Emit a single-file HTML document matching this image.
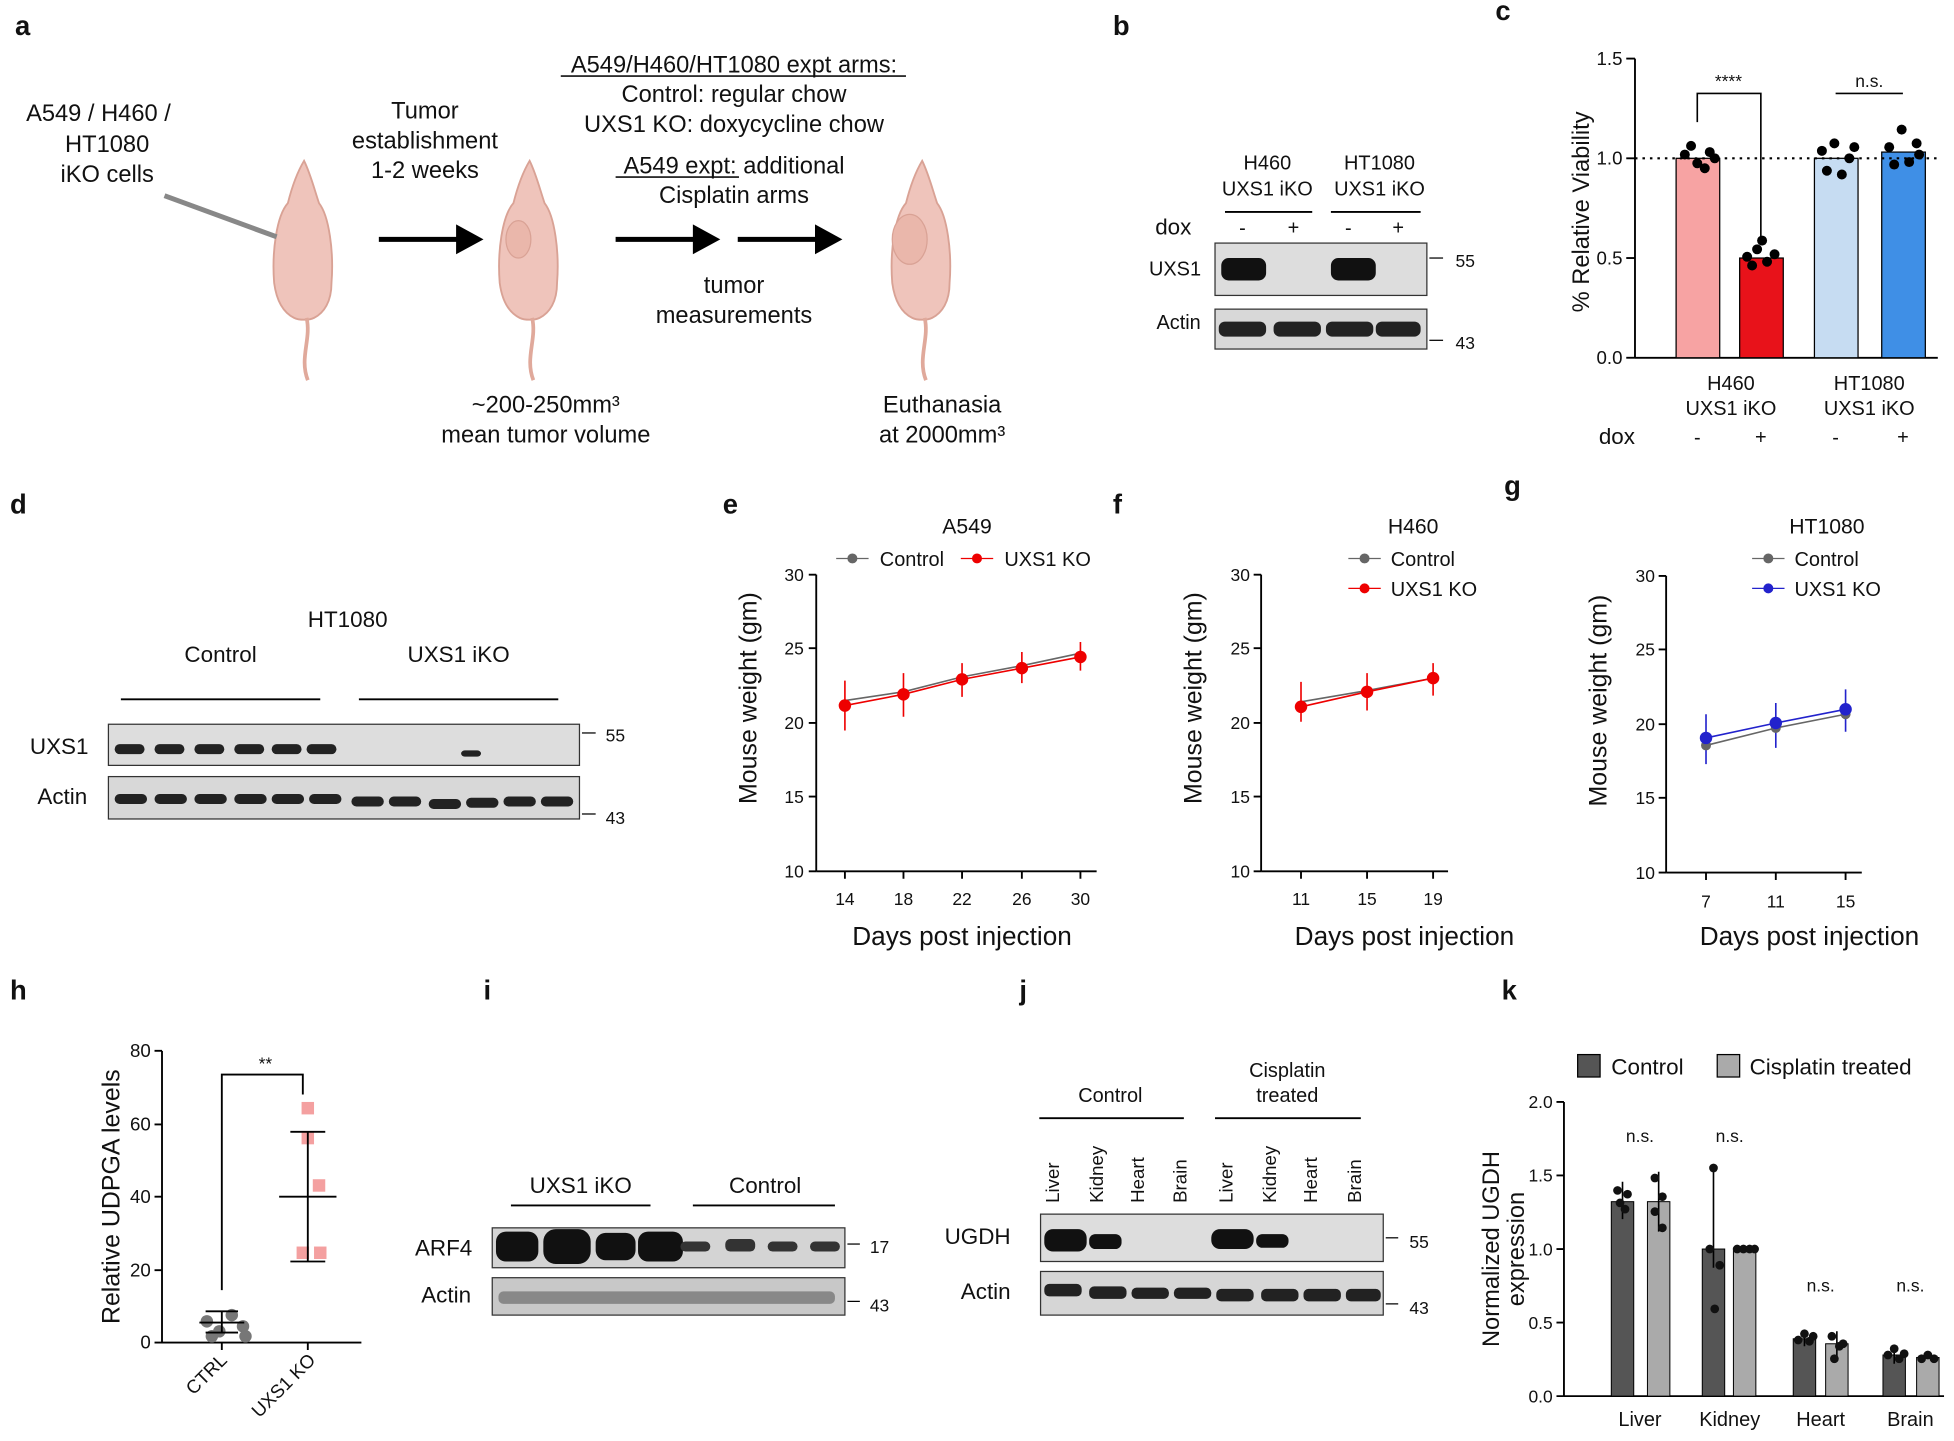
<!DOCTYPE html>
<html><head><meta charset="utf-8"><style>
html,body{margin:0;padding:0;background:#fff}
svg{display:block}
text{font-family:"Liberation Sans",Arial,sans-serif;fill:#111}
</style></head><body>
<svg width="1954" height="1441" viewBox="0 0 1568 1156" preserveAspectRatio="none" xmlns="http://www.w3.org/2000/svg">
<defs>
<g id="mouse">
<path d="M0,-78 C-6,-68 -10,-56 -13,-44 C-22,-34 -26,-5 -24,20 C-22,35 -16,44 -8,48 C-4,50 4,50 8,48 C16,44 22,35 22,20 C24,-5 20,-34 12,-44 C8,-56 5,-68 0,-78 Z" fill="#efc4bb" stroke="#d9a295" stroke-width="1.5"/>
<path d="M2,48 C6,65 -4,80 3,98" fill="none" stroke="#e0a99b" stroke-width="3"/>
</g>
</defs>
<g font-size="22" font-weight="bold"><text x="12" y="28">a</text><text x="893" y="28">b</text><text x="1200" y="16">c</text>
<text x="8" y="412">d</text><text x="580" y="412">e</text><text x="893" y="412">f</text><text x="1207" y="397">g</text>
<text x="8" y="802">h</text><text x="388" y="802">i</text><text x="818" y="802">j</text><text x="1205" y="802">k</text></g>

<!-- panel a -->
<g font-size="19" text-anchor="middle">
<text x="79" y="97">A549 / H460 /</text><text x="86" y="122">HT1080</text><text x="86" y="146">iKO cells</text>
<text x="341" y="95">Tumor</text><text x="341" y="119">establishment</text><text x="341" y="143">1-2 weeks</text>
<text x="589" y="58">A549/H460/HT1080 expt arms:</text><line x1="450" y1="61" x2="727" y2="61" stroke="#111" stroke-width="1.3"/>
<text x="589" y="82">Control: regular chow</text><text x="589" y="106">UXS1 KO: doxycycline chow</text>
<text x="589" y="139">A549 expt: additional</text><line x1="494" y1="142" x2="593" y2="142" stroke="#111" stroke-width="1.3"/>
<text x="589" y="163">Cisplatin arms</text>
<text x="589" y="235">tumor</text><text x="589" y="259">measurements</text>
<text x="438" y="331">~200-250mm³</text><text x="438" y="355">mean tumor volume</text>
<text x="756" y="331">Euthanasia</text><text x="756" y="355">at 2000mm³</text></g>
<use href="#mouse" x="244" y="207"/><use href="#mouse" x="425" y="207"/><use href="#mouse" x="740" y="207"/>
<ellipse cx="416" cy="192" rx="10" ry="15" fill="#eab7ab" stroke="#d9a295"/><ellipse cx="730" cy="192" rx="14" ry="20" fill="#eab7ab" stroke="#d9a295"/>
<line x1="132" y1="157" x2="222" y2="190" stroke="#888" stroke-width="4"/>
<g stroke="#000" stroke-width="4"><line x1="304" y1="192" x2="368" y2="192"/><line x1="494" y1="192" x2="558" y2="192"/><line x1="592" y1="192" x2="656" y2="192"/></g>
<g fill="#000"><path d="M366,180 L388,192 L366,204Z"/><path d="M556,180 L578,192 L556,204Z"/><path d="M654,180 L676,192 L654,204Z"/></g>

<!-- panel b -->
<g font-size="16" text-anchor="middle"><text x="1017" y="136">H460</text><text x="1017" y="157">UXS1 iKO</text><text x="1107" y="136">HT1080</text><text x="1107" y="157">UXS1 iKO</text>
<text x="997" y="188">-</text><text x="1038" y="188">+</text><text x="1082" y="188">-</text><text x="1122" y="188">+</text></g>
<line x1="983" y1="170" x2="1053" y2="170" stroke="#000" stroke-width="1.5"/><line x1="1068" y1="170" x2="1140" y2="170" stroke="#000" stroke-width="1.5"/>
<text x="927" y="188" font-size="18">dox</text><text x="922" y="221" font-size="16">UXS1</text><text x="928" y="264" font-size="16">Actin</text>
<rect x="975" y="195" width="170" height="42" fill="#ddd" stroke="#333"/><rect x="975" y="248" width="170" height="32" fill="#d8d8d8" stroke="#333"/>
<rect x="980" y="207" width="36" height="18" rx="6" fill="#111"/><rect x="1068" y="207" width="36" height="18" rx="6" fill="#111"/>
<g fill="#222"><rect x="978" y="258" width="38" height="12" rx="5"/><rect x="1022" y="258" width="38" height="12" rx="5"/><rect x="1064" y="258" width="38" height="12" rx="5"/><rect x="1104" y="258" width="36" height="12" rx="5"/></g>
<g font-size="14"><line x1="1147" y1="207" x2="1158" y2="207" stroke="#000"/><text x="1168" y="214">55</text><line x1="1147" y1="273" x2="1158" y2="273" stroke="#000"/><text x="1168" y="280">43</text></g>

<!-- panel c -->
<g stroke="#000" stroke-width="1.5"><line x1="1312" y1="47" x2="1312" y2="287"/><line x1="1312" y1="287" x2="1555" y2="287"/>
<line x1="1305" y1="47" x2="1312" y2="47"/><line x1="1305" y1="127" x2="1312" y2="127"/><line x1="1305" y1="207" x2="1312" y2="207"/><line x1="1305" y1="287" x2="1312" y2="287"/></g>
<g font-size="15" text-anchor="end"><text x="1302" y="52">1.5</text><text x="1302" y="132">1.0</text><text x="1302" y="212">0.5</text><text x="1302" y="292">0.0</text></g>
<text transform="translate(1275,170) rotate(-90)" font-size="19" text-anchor="middle">% Relative Viability</text>
<rect x="1345" y="127" width="35" height="160" fill="#f7a3a3" stroke="#000"/><rect x="1396" y="207" width="35" height="80" fill="#e8121a" stroke="#000"/>
<rect x="1456" y="127" width="35" height="160" fill="#c6dcf2" stroke="#000"/><rect x="1510" y="122" width="35" height="165" fill="#3f8fe6" stroke="#000"/>
<line x1="1312" y1="127" x2="1555" y2="127" stroke="#000" stroke-width="1.8" stroke-dasharray="2,4"/>
<g fill="#000"><circle cx="1352" cy="124" r="4"/><circle cx="1362" cy="131" r="4"/><circle cx="1372" cy="122" r="4"/><circle cx="1357" cy="117" r="4"/><circle cx="1368" cy="135" r="4"/><circle cx="1376" cy="127" r="4"/>
<circle cx="1402" cy="206" r="4"/><circle cx="1410" cy="200" r="4"/><circle cx="1418" cy="210" r="4"/><circle cx="1424" cy="204" r="4"/><circle cx="1406" cy="213" r="4"/><circle cx="1414" cy="193" r="4"/>
<circle cx="1462" cy="121" r="4"/><circle cx="1472" cy="115" r="4"/><circle cx="1484" cy="127" r="4"/><circle cx="1466" cy="137" r="4"/><circle cx="1478" cy="140" r="4"/><circle cx="1488" cy="118" r="4"/>
<circle cx="1516" cy="118" r="4"/><circle cx="1526" cy="104" r="4"/><circle cx="1538" cy="115" r="4"/><circle cx="1520" cy="132" r="4"/><circle cx="1532" cy="130" r="4"/><circle cx="1540" cy="124" r="4"/></g>
<g stroke="#000" stroke-width="1.3" fill="none"><path d="M1362,98 L1362,75 L1413,75 L1413,190"/><line x1="1473" y1="75" x2="1527" y2="75"/></g>
<text x="1387" y="70" font-size="14" text-anchor="middle">****</text><text x="1500" y="70" font-size="14" text-anchor="middle">n.s.</text>
<g font-size="16" text-anchor="middle"><text x="1389" y="313">H460</text><text x="1389" y="333">UXS1 iKO</text><text x="1500" y="313">HT1080</text><text x="1500" y="333">UXS1 iKO</text>
<text x="1362" y="356">-</text><text x="1413" y="356">+</text><text x="1473" y="356">-</text><text x="1527" y="356">+</text></g>
<text x="1283" y="356" font-size="18">dox</text>

<!-- panel d -->
<g font-size="18" text-anchor="middle"><text x="279" y="503">HT1080</text><text x="177" y="531">Control</text><text x="368" y="531">UXS1 iKO</text></g>
<line x1="97" y1="561" x2="257" y2="561" stroke="#000" stroke-width="1.5"/><line x1="288" y1="561" x2="448" y2="561" stroke="#000" stroke-width="1.5"/>
<text x="24" y="605" font-size="18">UXS1</text><text x="30" y="645" font-size="18">Actin</text>
<rect x="87" y="581" width="378" height="33" fill="#ddd" stroke="#333"/><rect x="87" y="623" width="378" height="34" fill="#d8d8d8" stroke="#333"/>
<g fill="#222"><rect x="92" y="597" width="24" height="8" rx="4"/><rect x="124" y="597" width="24" height="8" rx="4"/><rect x="156" y="597" width="24" height="8" rx="4"/><rect x="188" y="597" width="24" height="8" rx="4"/><rect x="218" y="597" width="24" height="8" rx="4"/><rect x="246" y="597" width="24" height="8" rx="4"/><rect x="370" y="602" width="16" height="5" rx="3"/></g>
<g fill="#222"><rect x="92" y="637" width="26" height="8" rx="4"/><rect x="124" y="637" width="26" height="8" rx="4"/><rect x="156" y="637" width="26" height="8" rx="4"/><rect x="188" y="637" width="26" height="8" rx="4"/><rect x="218" y="637" width="26" height="8" rx="4"/><rect x="248" y="637" width="26" height="8" rx="4"/><rect x="282" y="639" width="26" height="8" rx="4"/><rect x="312" y="639" width="26" height="8" rx="4"/><rect x="344" y="641" width="26" height="8" rx="4"/><rect x="374" y="640" width="26" height="8" rx="4"/><rect x="404" y="639" width="26" height="8" rx="4"/><rect x="434" y="639" width="26" height="8" rx="4"/></g>
<g font-size="14"><line x1="467" y1="588" x2="478" y2="588" stroke="#000"/><text x="486" y="595">55</text><line x1="467" y1="653" x2="478" y2="653" stroke="#000"/><text x="486" y="661">43</text></g>

<!-- panels e f g -->
<g font-size="14" text-anchor="end">
<text x="645" y="466">30</text><text x="645" y="525">25</text><text x="645" y="585">20</text><text x="645" y="644">15</text><text x="645" y="704">10</text>
<text x="1003" y="466">30</text><text x="1003" y="525">25</text><text x="1003" y="585">20</text><text x="1003" y="644">15</text><text x="1003" y="704">10</text>
<text x="1328" y="467">30</text><text x="1328" y="526">25</text><text x="1328" y="586">20</text><text x="1328" y="645">15</text><text x="1328" y="705">10</text></g>
<g stroke="#000" stroke-width="1.5">
<line x1="655" y1="461" x2="655" y2="699"/><line x1="655" y1="699" x2="880" y2="699"/>
<line x1="1012" y1="461" x2="1012" y2="699"/><line x1="1012" y1="699" x2="1162" y2="699"/>
<line x1="1337" y1="462" x2="1337" y2="700"/><line x1="1337" y1="700" x2="1494" y2="700"/>
<path d="M649,461h6M649,520h6M649,580h6M649,639h6M649,699h6 M678,699v6M725,699v6M772,699v6M820,699v6M867,699v6"/>
<path d="M1006,461h6M1006,520h6M1006,580h6M1006,639h6M1006,699h6 M1044,699v6M1097,699v6M1150,699v6"/>
<path d="M1331,462h6M1331,521h6M1331,581h6M1331,640h6M1331,700h6 M1369,700v6M1425,700v6M1481,700v6"/></g>
<g font-size="14" text-anchor="middle"><text x="678" y="726">14</text><text x="725" y="726">18</text><text x="772" y="726">22</text><text x="820" y="726">26</text><text x="867" y="726">30</text>
<text x="1044" y="726">11</text><text x="1097" y="726">15</text><text x="1150" y="726">19</text>
<text x="1369" y="728">7</text><text x="1425" y="728">11</text><text x="1481" y="728">15</text></g>
<g font-size="21" text-anchor="middle"><text x="772" y="758">Days post injection</text><text x="1127" y="758">Days post injection</text><text x="1452" y="758">Days post injection</text></g>
<g font-size="20" text-anchor="middle"><text transform="translate(607,560) rotate(-90)">Mouse weight (gm)</text><text transform="translate(964,560) rotate(-90)">Mouse weight (gm)</text><text transform="translate(1289,562) rotate(-90)">Mouse weight (gm)</text></g>
<g font-size="17" text-anchor="middle"><text x="776" y="428">A549</text><text x="1134" y="428">H460</text><text x="1466" y="428">HT1080</text></g>
<g font-size="16"><line x1="671" y1="448" x2="697" y2="448" stroke="#666"/><circle cx="684" cy="448" r="4" fill="#666"/><text x="706" y="454">Control</text>
<line x1="771" y1="448" x2="797" y2="448" stroke="#e00"/><circle cx="784" cy="448" r="4" fill="#e00"/><text x="806" y="454">UXS1 KO</text>
<line x1="1082" y1="448" x2="1108" y2="448" stroke="#666"/><circle cx="1095" cy="448" r="4" fill="#666"/><text x="1116" y="454">Control</text>
<line x1="1082" y1="472" x2="1108" y2="472" stroke="#e00"/><circle cx="1095" cy="472" r="4" fill="#e00"/><text x="1116" y="478">UXS1 KO</text>
<line x1="1406" y1="448" x2="1432" y2="448" stroke="#666"/><circle cx="1419" cy="448" r="4" fill="#666"/><text x="1440" y="454">Control</text>
<line x1="1406" y1="472" x2="1432" y2="472" stroke="#22c"/><circle cx="1419" cy="472" r="4" fill="#22c"/><text x="1440" y="478">UXS1 KO</text></g>
<g fill="none" stroke-width="1.3">
<polyline points="678,562 725,555 772,543 820,534 867,524" stroke="#666"/>
<polyline points="678,566 725,557 772,545 820,536 867,527" stroke="#e00"/>
<path d="M678,546v40M725,540v35M772,532v27M820,523v25M867,515v23" stroke="#e00"/>
<polyline points="1044,563 1097,554 1150,544" stroke="#666"/>
<polyline points="1044,567 1097,555 1150,544" stroke="#e00"/>
<path d="M1044,547v32M1097,540v30M1150,532v26" stroke="#e00"/>
<polyline points="1369,598 1425,584 1481,573" stroke="#666"/>
<polyline points="1369,592 1425,580 1481,569" stroke="#22c"/>
<path d="M1369,573v40M1425,564v36M1481,553v34" stroke="#22c"/></g>
<g fill="#666"><circle cx="1369" cy="598" r="4"/><circle cx="1425" cy="584" r="4"/><circle cx="1481" cy="573" r="4"/></g>
<g fill="#e00"><circle cx="678" cy="566" r="5"/><circle cx="725" cy="557" r="5"/><circle cx="772" cy="545" r="5"/><circle cx="820" cy="536" r="5"/><circle cx="867" cy="527" r="5"/>
<circle cx="1044" cy="567" r="5"/><circle cx="1097" cy="555" r="5"/><circle cx="1150" cy="544" r="5"/></g>
<g fill="#22c"><circle cx="1369" cy="592" r="5"/><circle cx="1425" cy="580" r="5"/><circle cx="1481" cy="569" r="5"/></g>

<!-- panel h -->
<g stroke="#000" stroke-width="1.5"><line x1="130" y1="843" x2="130" y2="1077"/><line x1="130" y1="1077" x2="290" y2="1077"/>
<path d="M124,843h6M124,902h6M124,960h6M124,1019h6M124,1077h6M178,1077v6M247,1077v6"/></g>
<g font-size="15" text-anchor="end"><text x="121" y="848">80</text><text x="121" y="907">60</text><text x="121" y="965">40</text><text x="121" y="1024">20</text><text x="121" y="1082">0</text></g>
<text transform="translate(96,960) rotate(-90)" font-size="20" text-anchor="middle">Relative UDPGA levels</text>
<g font-size="15" text-anchor="end"><text transform="translate(183,1092) rotate(-45)">CTRL</text><text transform="translate(254,1092) rotate(-45)">UXS1 KO</text></g>
<g fill="#777"><circle cx="166" cy="1060" r="5"/><circle cx="176" cy="1068" r="5"/><circle cx="186" cy="1055" r="5"/><circle cx="195" cy="1064" r="5"/><circle cx="170" cy="1072" r="5"/><circle cx="197" cy="1072" r="5"/></g>
<g fill="#f4a0a0"><rect x="242" y="884" width="10" height="10"/><rect x="242" y="908" width="10" height="10"/><rect x="251" y="946" width="10" height="10"/><rect x="238" y="1000" width="10" height="10"/><rect x="252" y="1000" width="10" height="10"/></g>
<g stroke="#000" stroke-width="1.5"><path d="M160,1061h36M165,1052h26M165,1069h26M178,1052v17"/><path d="M224,960h46M233,908h28M233,1012h28M247,908v104"/>
<path d="M178,1035V862H243V878" fill="none"/></g>
<text x="213" y="858" font-size="14" text-anchor="middle">**</text>

<!-- panel i -->
<g font-size="18" text-anchor="middle"><text x="466" y="957">UXS1 iKO</text><text x="614" y="957">Control</text></g>
<line x1="410" y1="967" x2="522" y2="967" stroke="#000" stroke-width="1.5"/><line x1="556" y1="967" x2="670" y2="967" stroke="#000" stroke-width="1.5"/>
<text x="333" y="1007" font-size="18">ARF4</text><text x="338" y="1045" font-size="18">Actin</text>
<rect x="395" y="985" width="283" height="32" fill="#d4d4d4" stroke="#333"/><rect x="395" y="1025" width="283" height="30" fill="#c8c8c8" stroke="#333"/>
<g fill="#111"><rect x="398" y="988" width="34" height="24" rx="8"/><rect x="436" y="986" width="38" height="28" rx="10"/><rect x="478" y="989" width="32" height="22" rx="8"/><rect x="512" y="988" width="36" height="24" rx="8"/></g>
<g fill="#333"><rect x="546" y="996" width="24" height="8" rx="4"/><rect x="582" y="994" width="24" height="10" rx="4"/><rect x="616" y="996" width="24" height="8" rx="4"/><rect x="650" y="996" width="24" height="8" rx="4"/></g>
<g fill="#888"><rect x="400" y="1036" width="270" height="10" rx="4"/></g>
<g font-size="14"><line x1="680" y1="998" x2="690" y2="998" stroke="#000"/><text x="698" y="1005">17</text><line x1="680" y1="1044" x2="690" y2="1044" stroke="#000"/><text x="698" y="1052">43</text></g>

<!-- panel j -->
<g font-size="16" text-anchor="middle"><text x="891" y="884">Control</text><text x="1033" y="864">Cisplatin</text><text x="1033" y="884">treated</text></g>
<line x1="834" y1="897" x2="950" y2="897" stroke="#000" stroke-width="1.5"/><line x1="975" y1="897" x2="1092" y2="897" stroke="#000" stroke-width="1.5"/>
<g font-size="15"><text transform="translate(850,965) rotate(-90)">Liver</text><text transform="translate(885,965) rotate(-90)">Kidney</text><text transform="translate(918,965) rotate(-90)">Heart</text><text transform="translate(952,965) rotate(-90)">Brain</text>
<text transform="translate(989,965) rotate(-90)">Liver</text><text transform="translate(1024,965) rotate(-90)">Kidney</text><text transform="translate(1057,965) rotate(-90)">Heart</text><text transform="translate(1092,965) rotate(-90)">Brain</text></g>
<text x="758" y="998" font-size="18">UGDH</text><text x="771" y="1042" font-size="18">Actin</text>
<rect x="835" y="974" width="275" height="38" fill="#ddd" stroke="#333"/><rect x="835" y="1020" width="275" height="35" fill="#d6d6d6" stroke="#333"/>
<g fill="#111"><rect x="838" y="986" width="34" height="18" rx="7"/><rect x="874" y="990" width="26" height="12" rx="5"/><rect x="972" y="986" width="34" height="16" rx="7"/><rect x="1008" y="990" width="26" height="11" rx="5"/></g>
<g fill="#222"><rect x="838" y="1030" width="30" height="10" rx="4"/><rect x="874" y="1032" width="30" height="10" rx="4"/><rect x="908" y="1033" width="30" height="9" rx="4"/><rect x="942" y="1033" width="30" height="9" rx="4"/><rect x="976" y="1034" width="30" height="10" rx="4"/><rect x="1012" y="1034" width="30" height="10" rx="4"/><rect x="1046" y="1034" width="30" height="10" rx="4"/><rect x="1080" y="1034" width="28" height="10" rx="4"/></g>
<g font-size="14"><line x1="1112" y1="993" x2="1122" y2="993" stroke="#000"/><text x="1131" y="1001">55</text><line x1="1112" y1="1046" x2="1122" y2="1046" stroke="#000"/><text x="1131" y="1054">43</text></g>

<!-- panel k -->
<rect x="1266" y="846" width="18" height="18" fill="#555" stroke="#000"/><text x="1293" y="862" font-size="18">Control</text>
<rect x="1378" y="846" width="18" height="18" fill="#aaa" stroke="#000"/><text x="1404" y="862" font-size="18">Cisplatin treated</text>
<g stroke="#000" stroke-width="1.5"><line x1="1255" y1="884" x2="1255" y2="1120"/><line x1="1255" y1="1120" x2="1560" y2="1120"/>
<path d="M1249,884h6M1249,943h6M1249,1002h6M1249,1061h6M1249,1120h6"/></g>
<g font-size="14" text-anchor="end"><text x="1246" y="889">2.0</text><text x="1246" y="948">1.5</text><text x="1246" y="1007">1.0</text><text x="1246" y="1066">0.5</text><text x="1246" y="1125">0.0</text></g>
<text transform="translate(1203,1002) rotate(-90)" font-size="19" text-anchor="middle">Normalized UGDH</text>
<text transform="translate(1223,1002) rotate(-90)" font-size="19" text-anchor="middle">expression</text>
<g stroke="#000" stroke-width="0.8">
<rect x="1293" y="964" width="18" height="156" fill="#555"/><rect x="1322" y="964" width="18" height="156" fill="#aaa"/>
<rect x="1366" y="1002" width="18" height="118" fill="#555"/><rect x="1391" y="1002" width="18" height="118" fill="#aaa"/>
<rect x="1439" y="1074" width="18" height="46" fill="#555"/><rect x="1465" y="1078" width="18" height="42" fill="#aaa"/>
<rect x="1511" y="1087" width="18" height="33" fill="#555"/><rect x="1538" y="1089" width="18" height="31" fill="#aaa"/></g>
<g stroke="#000" stroke-width="1.3"><path d="M1302,948v30M1331,940v48M1375,935v82M1448,1068v12M1474,1068v20M1520,1080v14"/></g>
<g fill="#111"><circle cx="1298" cy="955" r="3.5"/><circle cx="1304" cy="970" r="3.5"/><circle cx="1300" cy="965" r="3.5"/><circle cx="1306" cy="958" r="3.5"/>
<circle cx="1328" cy="945" r="3.5"/><circle cx="1334" cy="960" r="3.5"/><circle cx="1328" cy="972" r="3.5"/><circle cx="1334" cy="985" r="3.5"/>
<circle cx="1375" cy="937" r="3.5"/><circle cx="1372" cy="1002" r="3.5"/><circle cx="1380" cy="1015" r="3.5"/><circle cx="1376" cy="1050" r="3.5"/>
<circle cx="1394" cy="1002" r="3.5"/><circle cx="1399" cy="1002" r="3.5"/><circle cx="1404" cy="1002" r="3.5"/><circle cx="1408" cy="1002" r="3.5"/>
<circle cx="1443" cy="1075" r="3.5"/><circle cx="1448" cy="1070" r="3.5"/><circle cx="1452" cy="1076" r="3.5"/><circle cx="1455" cy="1072" r="3.5"/>
<circle cx="1470" cy="1072" r="3.5"/><circle cx="1476" cy="1080" r="3.5"/><circle cx="1472" cy="1090" r="3.5"/><circle cx="1479" cy="1078" r="3.5"/>
<circle cx="1515" cy="1087" r="3.5"/><circle cx="1520" cy="1082" r="3.5"/><circle cx="1524" cy="1090" r="3.5"/><circle cx="1528" cy="1086" r="3.5"/>
<circle cx="1542" cy="1090" r="3.5"/><circle cx="1547" cy="1087" r="3.5"/><circle cx="1552" cy="1090" r="3.5"/></g>
<g font-size="14" text-anchor="middle"><text x="1316" y="916">n.s.</text><text x="1388" y="916">n.s.</text><text x="1461" y="1036">n.s.</text><text x="1533" y="1036">n.s.</text></g>
<g font-size="16" text-anchor="middle"><text x="1316" y="1144">Liver</text><text x="1388" y="1144">Kidney</text><text x="1461" y="1144">Heart</text><text x="1533" y="1144">Brain</text></g>
</svg>
</body></html>
